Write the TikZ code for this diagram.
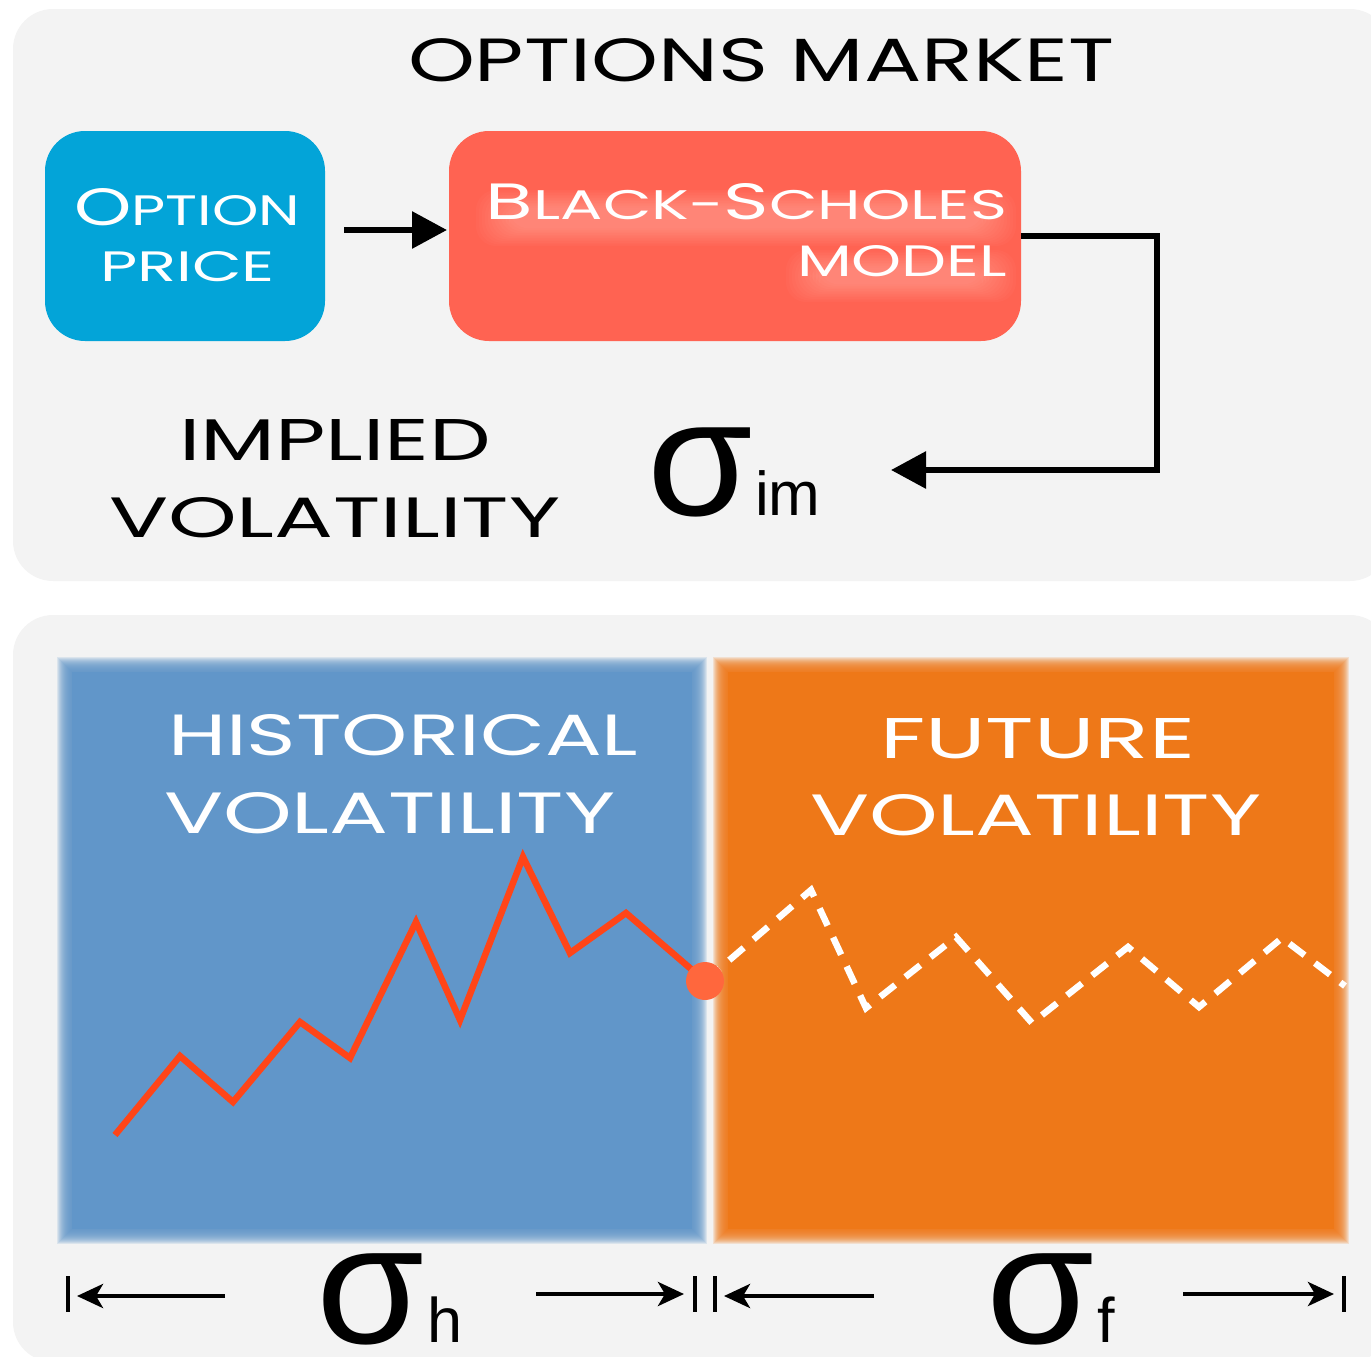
\documentclass[tikz,border=0pt]{standalone}
\usepackage{fontspec}
\usepackage{graphicx}
\setmainfont{Poppins}
\newfontfamily\sigfont{Liberation Sans}
\newfontfamily\sigwide{Liberation Sans}[FakeStretch=1.03]
\usetikzlibrary{arrows.meta}

\definecolor{panelgray}{HTML}{F3F3F3}
\definecolor{optblue}{HTML}{03A4D8}
\definecolor{bsred}{HTML}{FF6352}
\definecolor{histblue}{HTML}{6196C9}
\definecolor{futorange}{HTML}{EE7818}
\definecolor{pathred}{HTML}{FF4518}
\definecolor{dotred}{HTML}{FF673D}

% text squeezed or stretched into an exact box (width, height in pt)
\newcommand\boxfit[3]{\resizebox{#1pt}{#2pt}{#3}}
% two-size small capitals
\newcommand\capL[1]{{\fontsize{37}{37}\selectfont #1}}
\newcommand\capS[1]{{\fontsize{30}{30}\selectfont #1}}
% large sigma
\newcommand\bigsig[1]{{\fontsize{#1}{#1}\sigwide σ}}

% rectangle with soft (faded) edges
\newcommand\softrect[5]{%
  \foreach \k in {-7,...,7}{%
    \fill[#1, fill opacity=0.16] (#2+\k,#3+\k) rectangle (#4-\k,#5-\k);}
  \fill[#1] (#2+8,#3+8) rectangle (#4-8,#5-8);}

% soft white halo behind lettering
\newcommand\halo[4]{%
  \foreach \k in {0,...,11}{%
    \fill[white, fill opacity=0.024, rounded corners=20pt]
      (#1+\k*3,#2+\k*1.6) rectangle (#3-\k*3,#4-\k*1.6);}}

\tikzset{
  panel/.style={fill=panelgray, rounded corners=40pt},
  card/.style={rounded corners=40pt, minimum height=210pt, inner sep=0pt, outer sep=0pt},
  txt/.style={inner sep=0pt, outer sep=0pt},
  conn/.style={line width=6pt, line join=miter, -{Triangle[length=35pt,width=36pt]}},
  dimline/.style={line width=4.5pt, -{Stealth[length=26pt,width=24pt,inset=7pt]}},
  dimbar/.style={line width=4.5pt},
}

\begin{document}
\begin{tikzpicture}[x=1pt, y=-1pt]
\useasboundingbox (0,0) rectangle (1371,1357);
\clip (0,0) rectangle (1371,1357);

% ---------- upper panel: the options market ----------
\fill[panel] (13,9) rectangle (1390,581);

\node[txt, anchor=base west] (title) at (408,81)
  {\boxfit{706}{43}{OPTIONS MARKET}};

\node[card, fill=optblue, minimum width=280pt] (price) at (185,236) {};
\node[card, fill=bsred, minimum width=572pt] (bs) at (735,236) {};

\node[txt, anchor=base west, text=white] (priceA) at (74,225)
  {\boxfit{226}{37}{\capL{O}\capS{PTION}}};
\node[txt, anchor=base west, text=white] (priceB) at (100,281)
  {\boxfit{175}{30}{\capS{PRICE}}};

\halo{476}{190}{1016}{246}
\halo{786}{250}{1016}{302}
\node[txt, anchor=base east, text=white] (bsA) at (1007,219)
  {\boxfit{521}{36}{\capL{B}\capS{LACK-}\capL{S}\capS{CHOLES}}};
\node[txt, anchor=base east, text=white] (bsB) at (1007,276)
  {\boxfit{210}{31}{\capS{MODEL}}};

\node[txt, anchor=base west] (implA) at (179,460)
  {\boxfit{312}{41}{IMPLIED}};
\node[txt, anchor=base west] (implB) at (109,537)
  {\boxfit{451}{40}{VOLATILITY}};

\node[txt, anchor=base west] (sigim) at (647,515) {\bigsig{166}};
\node[txt, anchor=base west] (subim) at (755,515)
  {\fontsize{62}{62}\sigfont im};

\coordinate (elbowpt) at (1157,470);
\coordinate (imtip) at (891,470);

\draw[conn] ([shift={(19pt,6pt)}]price.east) -- ([shift={(-2pt,6pt)}]bs.west);
\draw[conn] (bs.east) -| (elbowpt) -- (imtip);

% ---------- lower panel: historical vs. future ----------
\fill[panel] (13,615) rectangle (1390,1362);

\softrect{histblue}{64}{664}{700}{1237}
\softrect{futorange}{720}{664}{1342}{1237}

\node[txt, anchor=base west, text=white] (histA) at (168,755)
  {\boxfit{470}{41}{HISTORICAL}};
\node[txt, anchor=base west, text=white] (histB) at (164,833)
  {\boxfit{451}{41}{VOLATILITY}};
\node[txt, anchor=base west, text=white] (futA) at (880,758)
  {\boxfit{315}{40}{FUTURE}};
\node[txt, anchor=base west, text=white] (futB) at (810,835)
  {\boxfit{451}{41}{VOLATILITY}};

% realised path
\draw[pathred, line width=6.5pt, line join=miter]
  (115,1135) -- (180,1056) -- (233,1102) -- (300,1022) -- (350,1058)
  -- (416,922) -- (460,1020) -- (523,857) -- (570,953) -- (626,913) -- (705,981);
% possible continuation
\draw[white, line width=6.5pt, dash pattern=on 19pt off 13pt]
  (705,981) -- (811,890) -- (866,1008) -- (956,937) -- (1032,1023)
  -- (1128,947) -- (1199,1007) -- (1282,938) -- (1345,986);
\node[circle, fill=dotred, minimum size=38pt, inner sep=0pt] (now) at (705,981) {};

% time spans
\node[txt, anchor=base west] (sigh) at (316,1343) {\bigsig{170}};
\node[txt, anchor=base west] (subh) at (427,1342)
  {\fontsize{63}{63}\sigfont h};
\node[txt, anchor=base west] (sigf) at (986,1343) {\bigsig{170}};
\node[txt, anchor=base west] (subf) at (1097,1342)
  {\fontsize{63}{63}\sigfont f};

\coordinate (barA) at (68,1294);
\coordinate (barB) at (695,1294);
\coordinate (barC) at (715,1294);
\coordinate (barD) at (1344,1294);
\coordinate (hs1) at (225,1296);
\coordinate (he1) at (77,1296);
\coordinate (hs2) at (536,1294);
\coordinate (he2) at (684,1294);
\coordinate (fs1) at (874,1296);
\coordinate (fe1) at (724,1296);
\coordinate (fs2) at (1183,1294);
\coordinate (fe2) at (1334,1294);

\foreach \b in {barA,barB,barC,barD}
  \draw[dimbar] ([yshift=18pt]\b) -- ([yshift=-18pt]\b);
\draw[dimline] (hs1) -- (he1);
\draw[dimline] (hs2) -- (he2);
\draw[dimline] (fs1) -- (fe1);
\draw[dimline] (fs2) -- (fe2);
\end{tikzpicture}
\end{document}
